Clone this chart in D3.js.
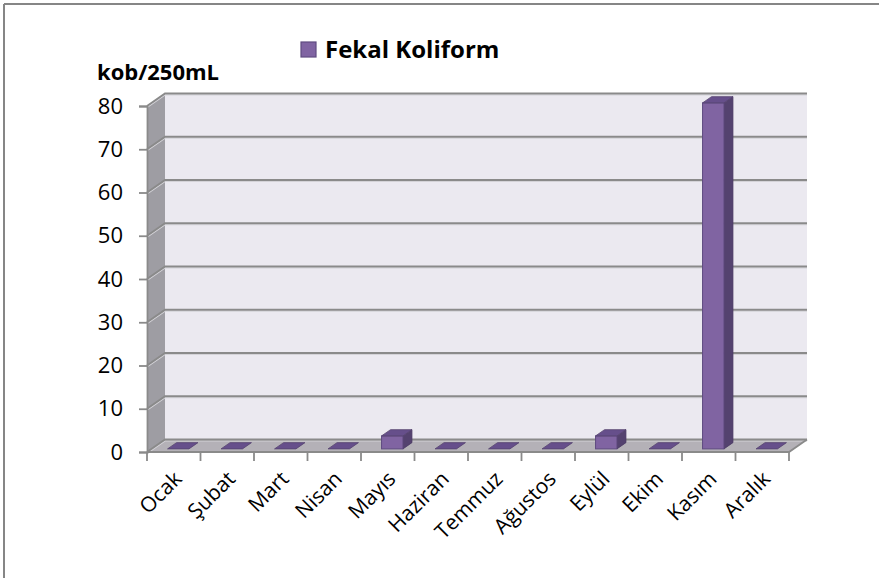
<!DOCTYPE html>
<html><head><meta charset="utf-8">
<script src="https://cdn.jsdelivr.net/npm/d3@7"></script>
<style>body{margin:0;background:#fff;}svg{display:block;}</style>
</head><body>
<svg id="chart" width="879" height="578"></svg>
<script>
const categories = ["Ocak","Şubat","Mart","Nisan","Mayıs","Haziran","Temmuz","Ağustos","Eylül","Ekim","Kasım","Aralık"];
const seriesName = "Fekal Koliform";
const values = [0,0,0,0,3,0,0,0,3,0,80,0];
const yTicks = [0,10,20,30,40,50,60,70,80];
const yUnit = "kob/250mL";

const svg = d3.select("#chart");
const font = "'Open Sans', sans-serif";
const DX = 18, DY = -12.5;               // depth offset of the 3D box
const x = d3.scaleBand().domain(categories).range([147, 789]).paddingInner(0).paddingOuter(0);
const y = d3.scaleLinear().domain([0, 80]).range([452, 106]);

// frame
svg.append("line").attr("x1",4).attr("y1",4).attr("x2",879).attr("y2",4).attr("stroke","#868686").attr("stroke-width",2);
svg.append("line").attr("x1",4).attr("y1",4).attr("x2",4).attr("y2",578).attr("stroke","#868686").attr("stroke-width",2);

const x0 = x.range()[0], x1 = x.range()[1];
const pt = p => p.map(d => d.join(",")).join(" ");

// back wall
svg.append("polygon").attr("points", pt([[x0+DX,y(80)+DY],[x1+DX,y(80)+DY],[x1+DX,y(0)+DY],[x0+DX,y(0)+DY]]))
  .attr("fill","#ebe9f0");
// left wall
svg.append("polygon").attr("points", pt([[x0,y(0)],[x0,y(80)],[x0+DX,y(80)+DY],[x0+DX,y(0)+DY]]))
  .attr("fill","#9e9da3");
// floor
svg.append("polygon").attr("points", pt([[x0,y(0)],[x1,y(0)],[x1+DX,y(0)+DY],[x0+DX,y(0)+DY]]))
  .attr("fill","#b4b1b7");

// gridlines
const grid = svg.append("g");
yTicks.forEach(t => {
  const yy = y(t);
  grid.append("polyline").attr("points", pt([[x0,yy+1.5],[x0+DX,yy+DY+1.5],[x1+DX,yy+DY+1.5]]))
    .attr("fill","none").attr("stroke","#d4d3d8").attr("stroke-width",1.2);
  grid.append("polyline").attr("points", pt([[x0,yy],[x0+DX,yy+DY],[x1+DX,yy+DY]]))
    .attr("fill","none").attr("stroke","#8a8a8a").attr("stroke-width",1.8);
});
// floor front edge and right edge
svg.append("polyline").attr("points", pt([[x0,y(0)],[x1,y(0)],[x1+DX,y(0)+DY]]))
  .attr("fill","none").attr("stroke","#8a8a8a").attr("stroke-width",1.8);

// bars
const bw = x.bandwidth()*0.4;
const d0 = 0.25, d1 = 0.75;
const bars = svg.append("g");
categories.forEach((c,i) => {
  const v = values[i];
  const xc = x(c) + x.bandwidth()/2;
  const xl = xc - bw/2, xr = xc + bw/2;
  const fx = DX*d0, fy = DY*d0, bx = DX*d1, by = DY*d1;
  const yb = y(0), yt = y(v);
  if (v > 0) {
    bars.append("polygon").attr("points", pt([[xr+fx,yb+fy],[xr+fx,yt+fy],[xr+bx,yt+by],[xr+bx,yb+by]]))
      .attr("fill","#54426f").attr("stroke","#4a3a63").attr("stroke-width",0.8);
    bars.append("rect").attr("x",xl+fx).attr("y",yt+fy).attr("width",bw).attr("height",yb-yt)
      .attr("fill","#8064a2").attr("stroke","#5f4b80").attr("stroke-width",1);
  }
  bars.append("polygon").attr("points", pt([[xl+fx,yt+fy],[xr+fx,yt+fy],[xr+bx,yt+by],[xl+bx,yt+by]]))
    .attr("fill","#664f8b").attr("stroke","#56436f").attr("stroke-width",0.8);
});

// y axis
const yAxis = svg.append("g").attr("transform",`translate(${x0},0)`)
  .call(d3.axisLeft(y).tickValues(yTicks).tickSize(8).tickPadding(16));
yAxis.select(".domain").attr("stroke","#8a8a8a").attr("stroke-width",1.8);
yAxis.selectAll(".tick line").attr("stroke","#8a8a8a").attr("stroke-width",1.8);
yAxis.selectAll("text").attr("font-family",font).attr("font-size",22).attr("fill","#000");

// x axis ticks at boundaries
const bounds = categories.map(c => x(c)).concat([x1]);
svg.append("g").selectAll("line").data(bounds).join("line")
  .attr("x1",d=>d).attr("x2",d=>d).attr("y1",y(0)).attr("y2",y(0)+9)
  .attr("stroke","#8a8a8a").attr("stroke-width",1.8);
svg.append("g").selectAll("text").data(categories).join("text")
  .attr("transform", c => `translate(${x(c)+x.bandwidth()/2+4},${475}) rotate(-45)`)
  .attr("text-anchor","end").attr("dy","0.35em")
  .attr("font-family",font).attr("font-size",21).attr("fill","#000")
  .text(c => c);

// unit label
svg.append("text").attr("x",97).attr("y",80).attr("font-family",font).attr("font-weight","bold")
  .attr("font-size",22).attr("fill","#000").text(yUnit);

// legend
svg.append("rect").attr("x",301).attr("y",42).attr("width",15).attr("height",15)
  .attr("fill","#8064a2").attr("stroke","#5f4b80").attr("stroke-width",1.2);
svg.append("text").attr("x",325).attr("y",58).attr("font-family",font).attr("font-weight","bold")
  .attr("font-size",24).attr("fill","#000").text(seriesName);
</script>
</body></html>
